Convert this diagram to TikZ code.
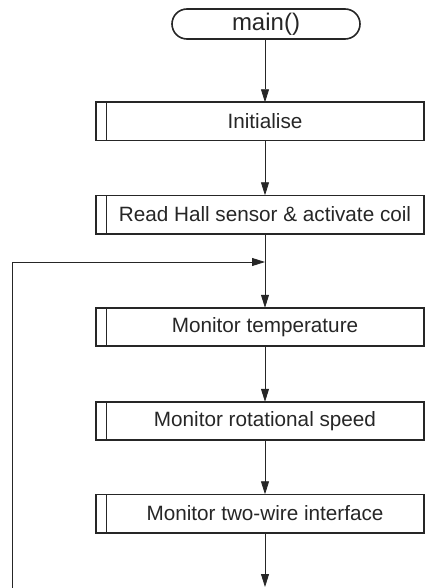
\documentclass[tikz,border=0pt]{standalone}
\usepackage{fontspec}
\setmainfont{Liberation Sans}
\usetikzlibrary{arrows.meta,calc}
\begin{document}
\begin{tikzpicture}[x=1pt,y=-1pt,
  flow/.style={line width=0.8pt,draw=black!85},
  arr/.style={flow,-{Triangle[length=13pt,width=8pt]}},
  proc/.style={minimum width=318pt,minimum height=38pt,inner sep=0pt,font=\fontsize{20.7}{24}\selectfont,text=black!85},
  procframe/.style={line width=1.6pt,draw=black!85},
  procinner/.style={line width=0.6pt,draw=black!85},
  term/.style={draw=black!85,line width=1.6pt,rounded corners=15pt,minimum width=188pt,minimum height=30pt,inner sep=0pt,font=\fontsize{24}{28}\selectfont,text=black!85}]
\useasboundingbox (0,0) rectangle (425,588);
\node[term] (main) at (266,24) {main()};
\node[proc] (init) at (265,121.5) {Initialise};
\node[proc] (read) at (265,214.5) {Read Hall sensor \& activate coil};
\node[proc] (temp) at (265,327) {Monitor temperature};
\node[proc] (rot) at (265,421) {Monitor rotational speed};
\node[proc] (twi) at (265,513.5) {Monitor two-wire interface};
\foreach \n in {init,read,temp,rot,twi}{
  \draw[procframe] ([xshift=-10pt]\n.north west) rectangle (\n.south east);
  \draw[procinner] (\n.north west) -- (\n.south west);
}
\coordinate (j) at (265,262);
\coordinate (end) at (265,587);
\coordinate (bl) at (12,588);
\coordinate (br) at (265,588);
\coordinate (tl) at (12,262);
\draw[arr] (init.north |- main.south) -- (init.north);
\draw[arr] (init.south) -- (read.north);
\draw[arr] (read.south) -- (temp.north);
\draw[arr] (temp.south) -- (rot.north);
\draw[arr] (rot.south) -- (twi.north);
\draw[arr] (twi.south) -- (end);
\draw[flow] (br) -- (bl);
\draw[arr] (bl) -- (tl) -- (j);
\end{tikzpicture}
\end{document}
